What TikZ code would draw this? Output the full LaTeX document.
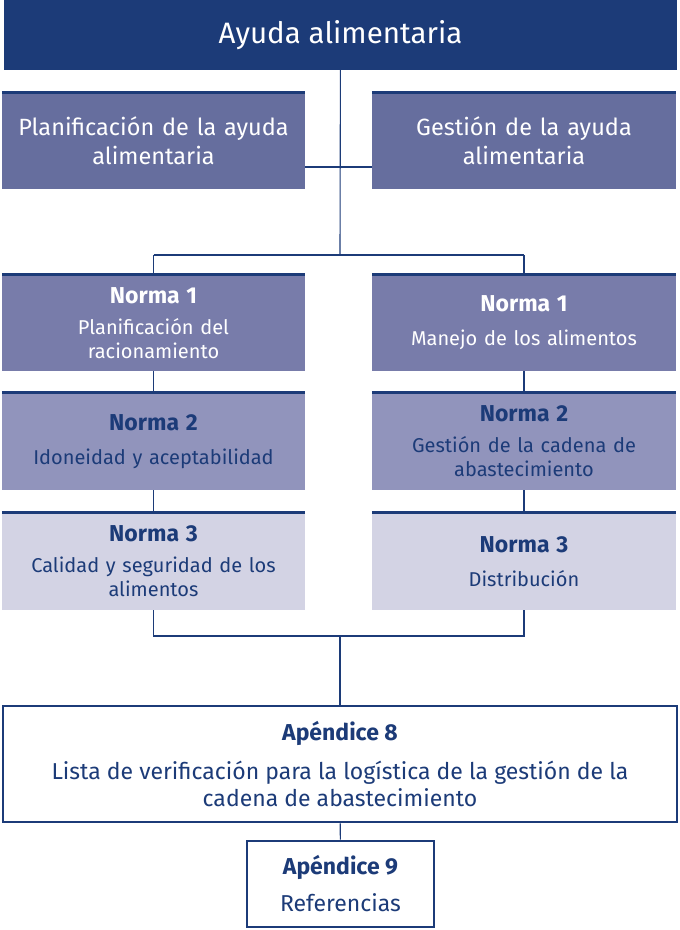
\documentclass[tikz,border=0pt]{standalone}
\usepackage{fontspec}
\setmainfont{Fira Sans}
\usetikzlibrary{calc}

\definecolor{navy}{HTML}{1C3B78}
\definecolor{slate}{HTML}{666E9E}
\definecolor{normaA}{HTML}{787CAA}
\definecolor{normaB}{HTML}{9194BC}
\definecolor{normaC}{HTML}{D3D3E4}

\newcommand{\normahead}[1]{{\bfseries\fontsize{23}{24}\selectfont #1}}

\begin{document}
\begin{tikzpicture}[x = 1pt, y = -1pt,
    box/.style = {inner sep = 0pt, align = center, text width = 296pt},
    normabox/.style = {box, font = \fontsize{20}{24}\selectfont},
    topline/.style = {navy, line width = 3pt},
    link/.style = {navy, line width = 1.1pt},
    appx/.style = {draw = navy, line width = 2.6pt, fill = white, inner sep = 0pt, align = center, text = navy,
      font = \fontsize{23}{27}\selectfont}]
  \useasboundingbox (0,0) rectangle (680,930);

  \node (top) at (340.5, 35) [fill = navy, inner sep = 0pt, minimum width = 673pt, minimum height = 70pt,
    text = white, font = \fontsize{29.5}{32}\selectfont] {Ayuda alimentaria};

  \node (plan) at (153.5, 141) [box, fill = slate, minimum width = 303pt, minimum height = 96pt, text = white,
    font = \fontsize{23.5}{29}\selectfont] {Planificación de la ayuda\\alimentaria};
  \node (gest) at (524, 141) [box, fill = slate, minimum width = 304pt, minimum height = 96pt, text = white,
    font = \fontsize{23.5}{29}\selectfont] {Gestión de la ayuda\\alimentaria};

  \node (l1) at (153.5, 323) [normabox, fill = normaA, minimum width = 303pt, minimum height = 96pt, text = white]
    {\normahead{Norma 1}\\[7pt]Planificación del\\racionamiento};
  \node (r1) at (524, 323) [normabox, fill = normaA, minimum width = 304pt, minimum height = 96pt, text = white]
    {\normahead{Norma 1}\\[10pt]Manejo de los alimentos};

  \node (l2) at (153.5, 441.5) [normabox, fill = normaB, minimum width = 303pt, minimum height = 97pt, text = navy]
    {\normahead{Norma 2}\\[10pt]Idoneidad y aceptabilidad};
  \node (r2) at (524, 441.5) [normabox, fill = normaB, minimum width = 304pt, minimum height = 97pt, text = navy]
    {\normahead{Norma 2}\\[7pt]Gestión de la cadena de\\abastecimiento};

  \node (l3) at (153.5, 561.5) [normabox, fill = normaC, minimum width = 303pt, minimum height = 97pt, text = navy]
    {\normahead{Norma 3}\\[7pt]Calidad y seguridad de los\\alimentos};
  \node (r3) at (524, 561.5) [normabox, fill = normaC, minimum width = 304pt, minimum height = 97pt, text = navy]
    {\normahead{Norma 3}\\[10pt]Distribución};

  \foreach \n in {plan, gest, l1, r1, l2, r2, l3, r3}
    \draw [topline] (\n.north west) -- (\n.north east);

  \node (ap8) at (340, 764) [appx, minimum width = 674pt, minimum height = 116pt]
    {{\bfseries Apéndice 8}\\[12pt]Lista de verificación para la logística de la gestión de la\\cadena de abastecimiento};
  \node (ap9) at (340.5, 884) [appx, minimum width = 187pt, minimum height = 86pt]
    {{\bfseries Apéndice 9}\\[10pt]Referencias};

  \coordinate (j0) at (340, 167);
  \coordinate (j1) at (340, 255);
  \coordinate (j2) at (340, 636);

  \draw [link] (top) -- (j1);
  \draw [link] (plan.east |- j0) -- (gest.west |- j0);
  \draw [link] (l1.north |- j1) -- (r1.north |- j1);
  \draw [link] (l1.north |- j1) -- (l1.north);
  \draw [link] (r1.north |- j1) -- (r1.north);
  \draw [link] (l1) -- (l2);
  \draw [link] (l2) -- (l3);
  \draw [link] (r1) -- (r2);
  \draw [link] (r2) -- (r3);
  \draw [link] (l3.south) -- (l3.south |- j2) -- (r3.south |- j2) -- (r3.south);
  \draw [link] (j2) -- (ap8.north);
  \draw [link] (ap8) -- (ap9);
\end{tikzpicture}
\end{document}
